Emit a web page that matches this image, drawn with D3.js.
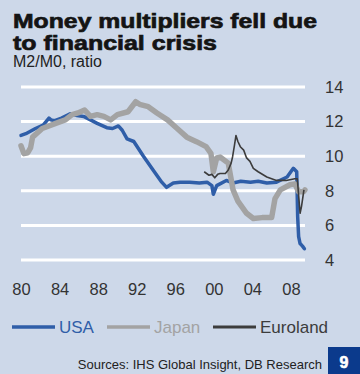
<!DOCTYPE html>
<html><head><meta charset="utf-8">
<script src="https://cdn.jsdelivr.net/npm/d3@7"></script>
<style>
html,body{margin:0;padding:0;background:#cdd8e9;}
svg{display:block;}
text{font-family:"Liberation Sans",Arial,sans-serif;}
</style></head>
<body>
<svg id="c" width="360" height="374"></svg>
<script>
const titleLines = ["Money multipliers fell due", "to financial crisis"];
const subtitle = "M2/M0, ratio";
const source = "Sources: IHS Global Insight, DB Research";
const pageNo = "9";
const xTicks = [1980, 1984, 1988, 1992, 1996, 2000, 2004, 2008];
const xTickLabels = ["80", "84", "88", "92", "96", "00", "04", "08"];
const yTicks = [4, 6, 8, 10, 12, 14];
const seriesNames = ["USA", "Japan", "Euroland"];

const usaYears = [1980.0,1980.5,1981.5,1982.3,1982.9,1983.1,1983.5,1984.2,1985.1,1985.8,1986.5,1987.2,1987.9,1988.9,1989.5,1990.1,1990.5,1991.0,1991.7,1992.7,1993.7,1994.6,1995.1,1995.8,1996.5,1997.5,1998.5,1999.3,1999.8,1999.95,2000.3,2001.3,2002.0,2002.8,2003.8,2004.6,2005.5,2006.5,2007.6,2008.25,2008.6,2008.7,2008.8,2008.95,2009.2,2009.4];
const usaValues = [11.2,11.3,11.6,11.8,12.2,12.1,12.05,12.2,12.45,12.35,12.3,12.1,11.9,11.65,11.6,11.75,11.5,11.0,10.85,10.0,9.2,8.5,8.2,8.45,8.5,8.5,8.45,8.5,8.3,7.8,8.3,8.6,8.45,8.55,8.5,8.55,8.45,8.5,8.8,9.3,9.1,6.5,5.35,4.95,4.8,4.65];

const japanYears = [1980.0,1980.3,1980.7,1981.0,1981.2,1982.2,1983.6,1984.6,1985.3,1985.9,1986.6,1987.2,1987.9,1988.6,1989.3,1990.0,1991.1,1991.9,1992.3,1993.2,1994.1,1995.2,1996.2,1997.2,1998.2,1999.2,1999.7,1999.95,2000.3,2000.65,2001.5,2002.0,2002.5,2003.4,2004.1,2005.0,2006.0,2006.35,2006.9,2007.9,2008.4,2008.8,2009.3,2009.45];
const japanValues = [10.6,10.15,10.2,10.5,11.1,11.6,11.9,12.1,12.4,12.5,12.67,12.3,12.4,12.3,12.1,12.4,12.57,13.15,13.0,12.86,12.5,12.1,11.6,11.1,10.84,10.55,10.17,9.1,9.9,9.95,9.6,8.05,7.4,6.7,6.4,6.45,6.45,7.55,8.05,8.35,8.4,7.95,7.95,8.05];

const euroYears = [1999.0,1999.5,1999.8,2000.1,2000.4,2000.65,2001.2,2001.5,2001.8,2001.95,2002.15,2002.3,2002.5,2002.75,2003.1,2003.4,2003.75,2004.1,2004.6,2005.5,2006.5,2007.5,2008.4,2008.66,2008.95,2009.1,2009.35];
const euroValues = [9.1,8.9,8.95,8.75,8.95,9.0,9.0,9.2,9.6,9.97,10.65,11.2,10.85,10.55,10.35,9.9,9.7,9.3,9.1,8.8,8.6,8.6,8.7,8.7,6.7,7.1,8.05];

const svg = d3.select("#c");
const x = d3.scaleLinear().domain([1980, 2009.46]).range([21, 305]);
const y = d3.scaleLinear().domain([4, 14]).range([260, 87]);

// title
svg.append("text").attr("x", 13).attr("y", 28).attr("font-size", 21).attr("font-weight", "bold")
  .attr("fill", "#141414").attr("stroke", "#141414").attr("stroke-width", 0.7)
  .attr("textLength", 304).attr("lengthAdjust", "spacingAndGlyphs").text(titleLines[0]);
svg.append("text").attr("x", 13).attr("y", 50).attr("font-size", 21).attr("font-weight", "bold")
  .attr("fill", "#141414").attr("stroke", "#141414").attr("stroke-width", 0.7)
  .attr("textLength", 204).attr("lengthAdjust", "spacingAndGlyphs").text(titleLines[1]);
svg.append("text").attr("x", 13).attr("y", 67).attr("font-size", 16).attr("fill", "#222").text(subtitle);

// gridlines
svg.append("g").selectAll("line").data(yTicks).join("line")
  .attr("x1", 21).attr("x2", 305).attr("y1", d => y(d)).attr("y2", d => y(d))
  .attr("stroke", "#ffffff").attr("stroke-width", 3);

// y axis (right)
const yAxis = d3.axisRight(y).tickValues(yTicks).tickSize(0).tickPadding(0).tickFormat(d3.format("d"));
const gy = svg.append("g").attr("transform", "translate(325,0)").call(yAxis);
gy.select(".domain").remove();
gy.selectAll("text").attr("font-size", 16.5).attr("fill", "#333").attr("font-family", "Liberation Sans, Arial, sans-serif");

// x axis
const xAxis = d3.axisBottom(x).tickValues(xTicks).tickSize(0).tickPadding(0).tickFormat((d, i) => xTickLabels[i]);
const gx = svg.append("g").attr("transform", "translate(0,283)").call(xAxis);
gx.select(".domain").remove();
gx.selectAll("text").attr("font-size", 16.5).attr("fill", "#333").attr("font-family", "Liberation Sans, Arial, sans-serif");

const line = d3.line().x(d => x(d[0])).y(d => y(d[1])).curve(d3.curveLinear);
const usa = usaYears.map((t, i) => [t, usaValues[i]]);
const japan = japanYears.map((t, i) => [t, japanValues[i]]);
const euro = euroYears.map((t, i) => [t, euroValues[i]]);

const colors = ["#2f5ea8", "#a3a3a3", "#3c3c3c"];
const widths = [3.5, 5.5, 1.6];

svg.append("path").datum(usa).attr("d", line).attr("fill", "none").attr("stroke", colors[0]).attr("stroke-width", widths[0]).attr("stroke-linejoin", "round").attr("stroke-linecap", "round");
svg.append("path").datum(japan).attr("d", line).attr("fill", "none").attr("stroke", colors[1]).attr("stroke-width", widths[1]).attr("stroke-linejoin", "round").attr("stroke-linecap", "round");
svg.append("path").datum(euro).attr("d", line).attr("fill", "none").attr("stroke", colors[2]).attr("stroke-width", widths[2]).attr("stroke-linejoin", "round");

// legend
const legX = [12, 107, 213];
const textColors = ["#2f5ea8", "#a3a3a3", "#3c3c3c"];
const lg = svg.append("g");
seriesNames.forEach((n, i) => {
  lg.append("line").attr("x1", legX[i]).attr("x2", legX[i] + 43).attr("y1", 327).attr("y2", 327)
    .attr("stroke", colors[i]).attr("stroke-width", i === 2 ? 3 : 3.5);
  lg.append("text").attr("x", legX[i] + 47).attr("y", 333).attr("font-size", 17).attr("fill", textColors[i]).text(n);
});

// source
svg.append("text").attr("x", 322).attr("y", 369).attr("text-anchor", "end").attr("font-size", 13).attr("fill", "#222").text(source);
svg.append("rect").attr("x", 328).attr("y", 347).attr("width", 32).attr("height", 27).attr("fill", "#0b3a8c");
svg.append("text").attr("x", 344).attr("y", 368).attr("text-anchor", "middle").attr("font-size", 16).attr("font-weight", "bold")
  .attr("fill", "#fff").attr("stroke", "#fff").attr("stroke-width", 0.6).text(pageNo);
</script>
</body></html>
